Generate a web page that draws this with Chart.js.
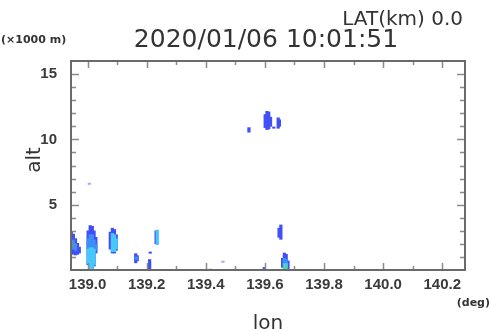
<!DOCTYPE html>
<html>
<head>
<meta charset="utf-8">
<script src="https://cdn.jsdelivr.net/npm/chart.js@4.4.0/dist/chart.umd.min.js"></script>
<style>
body { margin: 0; background: #fff; }
</style>
</head>
<body>
<canvas id="chart1" width="490" height="331"></canvas>
<script>
// echo columns, [lon, low alt, high alt] in km
var darkLon  = [138.945, 138.952, 138.959, 138.966, 138.972,
                139.002, 139.009, 139.016, 139.022, 139.028,
                139.077, 139.084, 139.091, 139.097,
                139.163, 139.168, 139.210, 139.212, 139.232,
                139.546, 139.601, 139.607, 139.613, 139.619, 139.630, 139.645, 139.649,
                139.648, 139.654, 139.598,
                139.660, 139.666, 139.672, 139.678]
var darkLow  = [1.3, 1.2, 1.15, 1.2, 1.3,
                0.4, 0.0, 0.0, 0.3, 1.3,
                1.6, 1.3, 1.3, 1.5,
                0.55, 0.7, 0.0, 1.28, 2.0,
                10.55, 10.9, 10.75, 10.8, 11.0, 10.85, 10.85, 11.0,
                2.5, 2.35, 0.0,
                0.2, 0.0, 0.0, 0.0]
var darkHigh = [2.95, 2.75, 2.4, 2.05, 1.75,
                3.0, 3.4, 3.35, 3.0, 2.5,
                2.9, 3.2, 3.1, 2.7,
                1.25, 1.1, 0.8, 1.38, 3.0,
                10.9, 11.9, 12.15, 12.1, 11.7, 10.95, 11.65, 11.5,
                3.2, 3.45, 0.2,
                0.9, 1.3, 1.2, 0.7]

var midLon  = [138.952, 138.959, 139.002, 139.009, 139.016, 139.022, 139.028, 139.165, 139.666, 139.672]
var midLow  = [1.6, 1.5, 1.6, 1.6, 1.6, 1.5, 1.5, 0.8, 0.4, 0.3]
var midHigh = [2.3, 2.0, 2.4, 2.7, 2.7, 2.3, 2.0, 1.0, 0.9, 0.8]

var cyanLon  = [139.002, 139.009, 139.016, 139.022, 139.084, 139.091, 139.097, 139.236, 139.666, 139.672]
var cyanLow  = [0.5, 0.0, 0.0, 0.4, 1.4, 1.4, 1.6, 1.95, 0.0, 0.0]
var cyanHigh = [1.6, 1.7, 1.7, 1.6, 2.8, 2.7, 2.4, 3.05, 0.5, 0.5]

var greenLon  = [139.669]
var greenLow  = [0.0]
var greenHigh = [0.35]

var faintLon  = [139.006, 139.458, 139.416]
var faintLow  = [6.55, 0.58, 0.0]
var faintHigh = [6.65, 0.68, 0.08]

var lonTicks = [139.0, 139.1, 139.2, 139.3, 139.4, 139.5, 139.6, 139.7, 139.8, 139.9, 140.0, 140.1, 140.2]
var altTicks = [1, 2, 3, 4, 5, 6, 7, 8, 9, 10, 11, 12, 13, 14, 15]

function toBars(lon, low, high) {
    var out = []
    for (var i = 0; i < lon.length; i++) {
        out.push({x: lon[i], y: [low[i], high[i]]})
    }
    return out
}

// order: bigger number is painted first (underneath)
function makeSet(lon, low, high, col, order) {
    return {
        data: toBars(lon, low, high),
        backgroundColor: col,
        borderWidth: 0,
        barThickness: 2.6,
        grouped: false,
        order: order
    }
}

var isMajorLon = function(v) { return Math.round(v * 10) % 2 == 0 }
var isMajorAlt = function(v) { return v % 5 == 0 }

var frame = {
    id: 'frame',
    afterDraw: function(chart) {
        var ctx = chart.ctx
        var a = chart.chartArea
        var xs = chart.scales.x
        var ys = chart.scales.y
        ctx.save()
        ctx.strokeStyle = '#8a8a8a'
        ctx.lineWidth = 1.5
        ctx.beginPath()
        for (var i = 0; i < lonTicks.length; i++) {
            var px = Math.round(xs.getPixelForValue(lonTicks[i])) + 0.5
            var len = isMajorLon(lonTicks[i]) ? 7 : 4
            ctx.moveTo(px, a.bottom); ctx.lineTo(px, a.bottom - len)
            ctx.moveTo(px, a.top); ctx.lineTo(px, a.top + len)
        }
        for (var j = 0; j < altTicks.length; j++) {
            var py = Math.round(ys.getPixelForValue(altTicks[j])) + 0.5
            var l2 = isMajorAlt(altTicks[j]) ? 8 : 5
            ctx.moveTo(a.left, py); ctx.lineTo(a.left + l2, py)
            ctx.moveTo(a.right, py); ctx.lineTo(a.right - l2, py)
        }
        ctx.stroke()
        ctx.strokeStyle = '#6a6a6a'
        ctx.lineWidth = 2
        ctx.strokeRect(a.left, a.top, a.right - a.left, a.bottom - a.top)

        ctx.fillStyle = '#333'
        ctx.textBaseline = 'alphabetic'
        ctx.font = '25px "DejaVu Sans"'
        ctx.textAlign = 'center'
        ctx.fillText('2020/01/06 10:01:51', 266, 47)
        ctx.font = '20px "DejaVu Sans"'
        ctx.textAlign = 'right'
        ctx.fillText('LAT(km) 0.0', 463, 25)
        ctx.font = 'bold 11px "DejaVu Sans"'
        ctx.textAlign = 'left'
        ctx.fillText('(\u00d71000 m)', 1, 43)
        ctx.textAlign = 'right'
        ctx.fillText('(deg)', 490, 306)
        ctx.font = '20px "DejaVu Sans"'
        ctx.textAlign = 'center'
        ctx.fillText('lon', 268, 329)
        ctx.translate(35, 160)
        ctx.rotate(-Math.PI / 2)
        ctx.textBaseline = 'middle'
        ctx.fillText('alt', 0, 0)
        ctx.restore()
    }
}

new Chart(document.getElementById('chart1'), {
    type: 'bar',
    data: {
        datasets: [
            makeSet(darkLon, darkLow, darkHigh, '#4150f5', 5),
            makeSet(midLon, midLow, midHigh, '#3f8ef7', 4),
            makeSet(cyanLon, cyanLow, cyanHigh, '#48c8fa', 3),
            makeSet(greenLon, greenLow, greenHigh, '#4fdc8c', 2),
            makeSet(faintLon, faintLow, faintHigh, '#aaa4ff', 1)
        ]
    },
    options: {
        responsive: false,
        animation: false,
        layout: { padding: { left: 0, top: 61, right: 25, bottom: 0 } },
        plugins: { legend: { display: false }, tooltip: { enabled: false } },
        scales: {
            x: {
                type: 'linear',
                offset: false,
                min: 138.944,
                max: 140.277,
                grid: { display: false, drawTicks: false, offset: false },
                border: { display: false },
                afterBuildTicks: function(s) {
                    s.ticks = lonTicks.map(function(v) { return {value: v} })
                },
                afterFit: function(s) { s.height = 61 },
                ticks: {
                    autoSkip: false,
                    maxRotation: 0,
                    padding: 6,
                    color: '#3a3a3a',
                    font: { family: 'Liberation Sans', weight: 'bold', size: 15 },
                    callback: function(v) { return isMajorLon(v) ? v.toFixed(1) : '' }
                }
            },
            y: {
                min: 0,
                max: 16,
                grid: { display: false, drawTicks: false },
                border: { display: false },
                afterBuildTicks: function(s) {
                    s.ticks = altTicks.map(function(v) { return {value: v} })
                },
                afterFit: function(s) { s.width = 71 },
                ticks: {
                    autoSkip: false,
                    padding: 14,
                    color: '#3a3a3a',
                    font: { family: 'Liberation Sans', weight: 'bold', size: 15 },
                    callback: function(v) { return isMajorAlt(v) ? String(v) : '' }
                }
            }
        }
    },
    plugins: [frame]
});
</script>
</body>
</html>
